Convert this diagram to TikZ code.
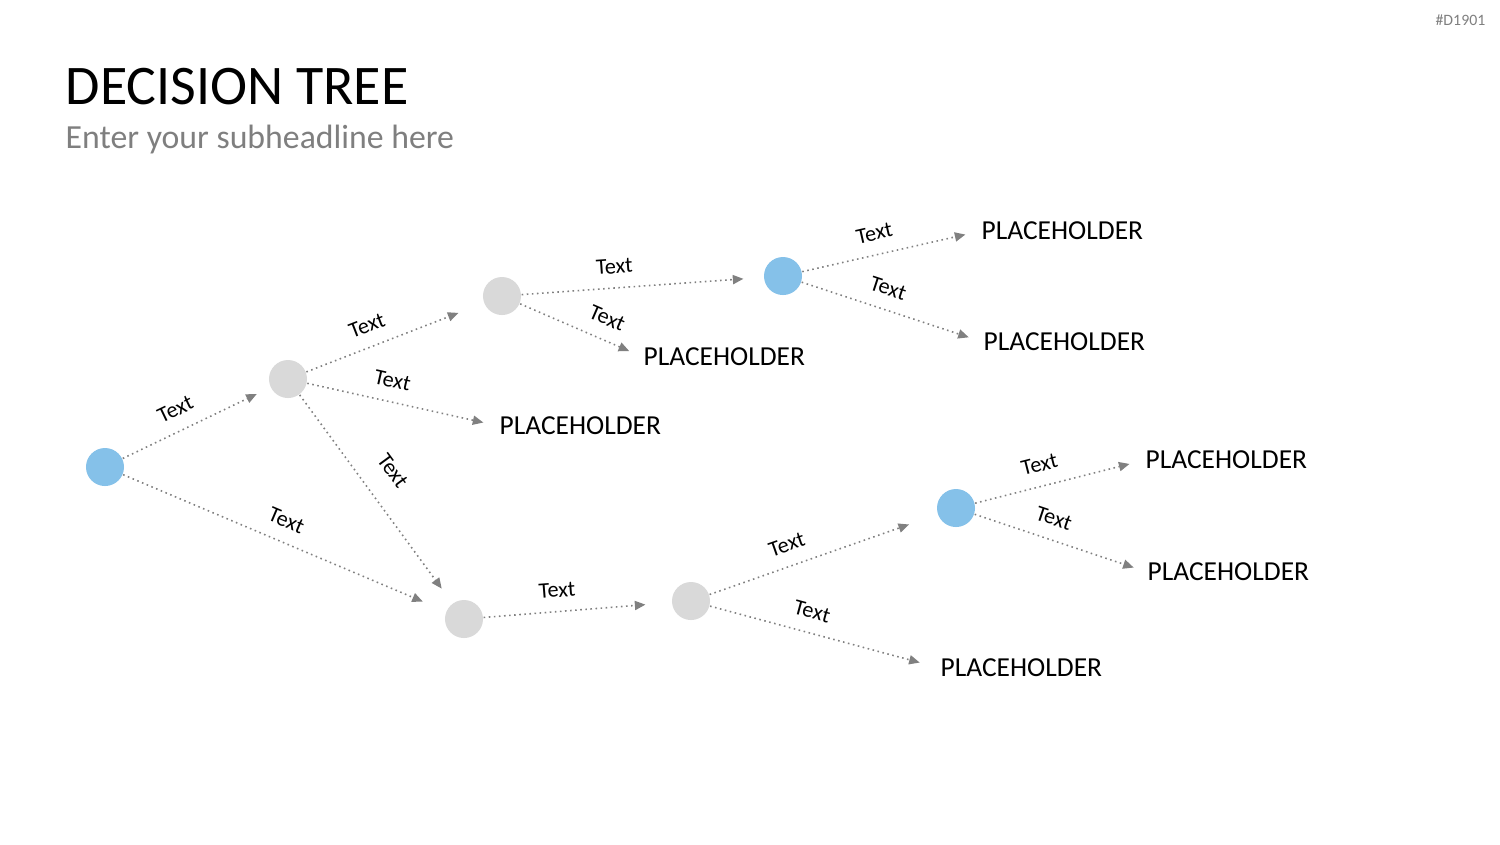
\documentclass[tikz,border=0pt]{standalone}
\usepackage{fontspec}
\setmainfont{Carlito}
\usetikzlibrary{arrows.meta}

\definecolor{nodeblue}{HTML}{85C1E9}
\definecolor{nodegray}{HTML}{D9D9D9}
\definecolor{linegray}{HTML}{808080}
\definecolor{subgray}{HTML}{7F7F7F}

\begin{document}
\begin{tikzpicture}[x=0.01cm, y=-0.01cm,
    blue node/.style={circle, fill=nodeblue, minimum size=0.38cm, inner sep=0pt},
    gray node/.style={circle, fill=nodegray, minimum size=0.38cm, inner sep=0pt},
    branch/.style={densely dotted, linegray, line width=0.45pt,
        -{Triangle[length=3pt,width=2.6pt]}, shorten >=#1},
    branch/.default=0.16cm,
    leaf/.style={anchor=west, inner sep=0pt, font=\fontsize{7.8}{9}\selectfont},
    lbl/.style={sloped, above=0.5pt, font=\fontsize{6.3}{7}\selectfont, text=black}]
    \useasboundingbox (0,0) rectangle (1500,844);

    % heading
    \node[anchor=base west, inner sep=0pt, font=\fontsize{15.9}{18}\selectfont] (title) at (65,104) {DECISION TREE};
    \node[anchor=base west, inner sep=0pt, font=\fontsize{9.6}{11}\selectfont, text=subgray] (subtitle) at (65,148) {Enter your subheadline here};
    \node[anchor=east, inner sep=0pt, font=\fontsize{4.5}{5}\selectfont, text=subgray] (code) at (1486,20) {\#D1901};

    % decision points
    \node[blue node] (root) at (105,467) {};
    \node[gray node] (b1) at (288,379) {};
    \node[gray node] (b2) at (502,296) {};
    \node[blue node] (d1) at (783,276) {};
    \node[gray node] (b3) at (464,619) {};
    \node[gray node] (b4) at (691,601) {};
    \node[blue node] (d2) at (956,508) {};

    % outcomes
    \node[leaf] (ph1) at (499,426) {PLACEHOLDER};
    \node[leaf] (ph2) at (643,357) {PLACEHOLDER};
    \node[leaf] (ph3) at (981,231) {PLACEHOLDER};
    \node[leaf] (ph4) at (983,342) {PLACEHOLDER};
    \node[leaf] (ph5) at (940,668) {PLACEHOLDER};
    \node[leaf] (ph6) at (1145,460) {PLACEHOLDER};
    \node[leaf] (ph7) at (1147,572) {PLACEHOLDER};

    % branches
    \draw[branch=0.15cm] (root) -- node[lbl, pos=0.42] {Text} (b1);
    \draw[branch=0.25cm] (root) -- node[lbl, pos=0.48] {Text} (b3);
    \draw[branch=0.27cm] (b1) -- node[lbl, pos=0.385] {Text} (b2);
    \draw[branch] (b1) -- node[lbl, pos=0.42] {Text} (ph1.west);
    \draw[branch=0.18cm] (b1) -- node[lbl, pos=0.45, above=2.5pt] {Text} (b3);
    \draw[branch=0.2cm] (b2) -- node[lbl, pos=0.39] {Text} (d1);
    \draw[branch=0.15cm] (b2) -- node[lbl, pos=0.64] {Text} (ph2.west);
    \draw[branch] (d1) -- node[lbl, pos=0.43] {Text} (ph3.west);
    \draw[branch=0.15cm] (d1) -- node[lbl, pos=0.44] {Text} (ph4.west);
    \draw[branch=0.26cm] (b3) -- node[lbl, pos=0.4] {Text} (b4);
    \draw[branch=0.3cm] (b4) -- node[lbl, pos=0.37] {Text} (d2);
    \draw[branch=0.21cm] (b4) -- node[lbl, pos=0.42] {Text} (ph5.west);
    \draw[branch] (d2) -- node[lbl, pos=0.41] {Text} (ph6.west);
    \draw[branch=0.14cm] (d2) -- node[lbl, pos=0.42] {Text} (ph7.west);
\end{tikzpicture}
\end{document}
